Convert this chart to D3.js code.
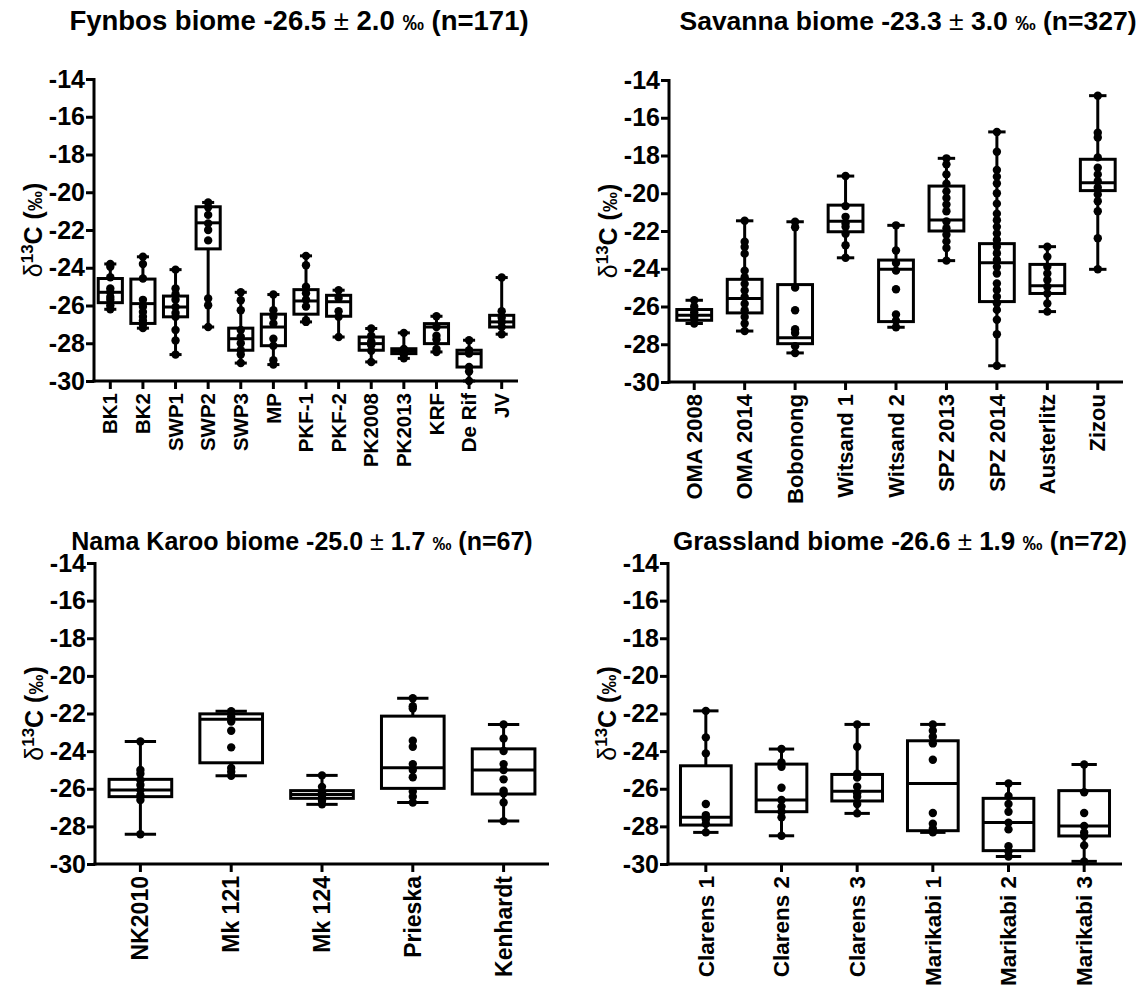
<!DOCTYPE html>
<html>
<head>
<meta charset="utf-8">
<script src="https://cdn.jsdelivr.net/npm/d3@7"></script>
<style>
  body { margin: 0; background: #fff; }
  text { font-family: "Liberation Sans", Arial, sans-serif; font-weight: bold; fill: #000; }
</style>
</head>
<body>
<svg id="chart" width="1145" height="987"></svg>
<script>
// y ticks shared by every panel
var yTicks = [-14, -16, -18, -20, -22, -24, -26, -28, -30];

// Fynbos
var fynbosSites = ["BK1", "BK2", "SWP1", "SWP2", "SWP3", "MP", "PKF-1", "PKF-2", "PK2008", "PK2013", "KRF", "De Rif", "JV"];
// [min, q1, median, q3, max]
var fynbosStats = [
  [-26.2, -25.85, -25.3, -24.57, -23.8],
  [-27.2, -26.95, -25.9, -24.6, -23.42],
  [-28.6, -26.6, -26.08, -25.5, -24.1],
  [-27.14, -23.0, -21.62, -20.77, -20.54],
  [-29.05, -28.37, -27.76, -27.2, -25.3],
  [-29.13, -28.13, -27.14, -26.46, -25.42],
  [-26.87, -26.46, -25.76, -25.16, -23.37],
  [-27.67, -26.57, -25.8, -25.46, -25.19],
  [-28.99, -28.37, -28.02, -27.67, -27.22],
  [-28.8, -28.55, -28.43, -28.29, -27.45],
  [-28.46, -28.02, -27.14, -26.96, -26.57],
  [-30.0, -29.26, -28.55, -28.37, -27.84],
  [-27.52, -27.14, -26.87, -26.52, -24.52]
];
var fynbosPoints = [
  [-23.8, -23.95, -24.5, -25.1, -25.3, -25.55, -25.7, -26.0, -26.2],
  [-23.42, -23.8, -24.57, -25.7, -26.07, -26.34, -26.6, -26.8, -27.0, -27.2],
  [-24.1, -25.1, -25.4, -25.7, -26.08, -26.4, -26.6, -27.3, -27.85, -28.6],
  [-20.54, -20.8, -21.2, -21.65, -22.0, -22.55, -25.63, -25.99, -27.14],
  [-25.3, -25.72, -26.25, -27.3, -27.65, -28.0, -28.37, -28.6, -29.05],
  [-25.42, -26.25, -26.6, -26.95, -27.76, -28.13, -28.9, -29.13],
  [-23.37, -23.87, -25.0, -25.35, -25.7, -26.05, -26.78, -26.87],
  [-25.19, -25.6, -26.3, -26.6, -27.67],
  [-27.22, -27.6, -27.9, -28.1, -28.4, -28.99],
  [-27.45, -28.3, -28.4, -28.5, -28.6, -28.8],
  [-26.57, -27.14, -27.6, -27.8, -28.3, -28.46],
  [-27.84, -28.37, -28.55, -29.26, -29.5, -30.0],
  [-24.52, -26.3, -26.65, -26.87, -27.14, -27.52]
];

// Savanna
var savannaSites = ["OMA 2008", "OMA 2014", "Bobonong", "Witsand 1", "Witsand 2", "SPZ 2013", "SPZ 2014", "Austerlitz", "Zizou"];
var savannaStats = [
  [-26.9, -26.73, -26.46, -26.16, -25.67],
  [-27.3, -26.34, -25.58, -24.56, -21.46],
  [-28.46, -27.97, -27.65, -24.84, -21.51],
  [-23.42, -22.04, -21.48, -20.63, -19.09],
  [-27.1, -26.8, -24.03, -23.54, -21.7],
  [-23.57, -22.0, -21.42, -19.62, -18.15],
  [-29.14, -25.74, -23.68, -22.67, -16.75],
  [-26.27, -25.31, -24.9, -23.77, -22.83],
  [-24.03, -19.86, -19.44, -18.2, -14.83]
];
var savannaPoints = [
  [-25.67, -26.0, -26.3, -26.46, -26.6, -26.9],
  [-21.46, -22.57, -22.85, -23.2, -24.1, -24.45, -24.8, -25.15, -25.5, -25.85, -26.2, -26.55, -26.9, -27.3],
  [-21.51, -21.8, -25.0, -26.2, -27.2, -27.4, -28.1, -28.46],
  [-19.09, -20.68, -21.25, -21.6, -21.78, -22.15, -22.75, -23.42],
  [-21.7, -23.03, -23.7, -24.1, -25.09, -26.42, -26.75, -27.1],
  [-18.15, -18.47, -19.0, -19.5, -19.9, -20.25, -20.6, -20.95, -21.5, -21.85, -22.2, -22.55, -22.9, -23.57],
  [-16.75, -17.8, -18.77, -19.12, -19.48, -20.0, -20.55, -21.08, -21.43, -21.78, -22.13, -22.48, -22.83, -23.18, -23.53, -23.9, -24.25, -24.78, -25.13, -25.48, -25.83, -26.18, -26.7, -27.47, -29.14],
  [-22.83, -23.36, -23.9, -24.25, -24.6, -24.95, -25.31, -25.84, -26.27],
  [-14.83, -16.79, -17.05, -18.1, -18.65, -19.0, -19.36, -19.7, -20.06, -20.42, -20.95, -22.38, -24.03]
];

// Nama Karoo
var namaSites = ["NK2010", "Mk 121", "Mk 124", "Prieska", "Kenhardt"];
var namaStats = [
  [-28.42, -26.42, -26.07, -25.5, -23.49],
  [-25.31, -24.62, -22.3, -22.02, -21.88],
  [-26.83, -26.51, -26.3, -26.1, -25.29],
  [-26.73, -25.98, -24.88, -22.14, -21.19],
  [-27.72, -26.28, -25.0, -23.88, -22.58]
];
var namaPoints = [
  [-23.49, -25.0, -25.2, -25.55, -25.8, -26.07, -26.35, -26.6, -28.42],
  [-21.88, -22.17, -22.43, -22.92, -23.8, -24.9, -25.1, -25.31],
  [-25.29, -25.9, -26.2, -26.37, -26.64, -26.83],
  [-21.19, -21.61, -21.74, -23.45, -23.77, -24.69, -25.0, -25.39, -26.15, -26.42, -26.73],
  [-22.58, -23.33, -23.99, -24.69, -25.0, -25.5, -26.1, -26.24, -26.73, -27.72]
];

// Grassland
var grassSites = ["Clarens 1", "Clarens 2", "Clarens 3", "Marikabi 1", "Marikabi 2", "Marikabi 3"];
var grassStats = [
  [-28.32, -27.93, -27.52, -24.78, -21.86],
  [-28.5, -27.22, -26.6, -24.69, -23.89],
  [-27.31, -26.65, -26.13, -25.24, -22.58],
  [-28.32, -28.23, -25.72, -23.45, -22.58],
  [-29.6, -29.29, -27.8, -26.51, -25.72],
  [-29.86, -28.51, -27.98, -26.1, -24.71]
];
var grassPoints = [
  [-21.86, -23.27, -24.12, -26.81, -27.4, -27.63, -27.86, -28.32],
  [-23.89, -24.6, -24.83, -25.95, -26.6, -26.95, -27.22, -27.52, -28.5],
  [-22.58, -23.77, -25.2, -25.41, -25.89, -26.24, -26.42, -26.81, -27.31],
  [-22.58, -22.92, -23.24, -23.59, -24.46, -27.29, -27.86, -28.12, -28.32],
  [-25.72, -26.38, -26.81, -27.22, -27.8, -28.16, -29.06, -29.33, -29.6],
  [-24.71, -26.19, -27.29, -27.98, -28.33, -28.51, -29.01, -29.86]
];

var svg = d3.select("#chart");

function drawPanel(cfg) {
  var g = svg.append("g");

  var x = d3.scaleBand()
      .domain(cfg.sites)
      .range([cfg.left, cfg.right])
      .paddingInner(0)
      .paddingOuter(0);
  var y = d3.scaleLinear()
      .domain([-30, -14])
      .range([cfg.bottom, cfg.top]);

  var bw = x.bandwidth() * cfg.boxFrac,
      cap = bw * 0.5;

  // y axis
  var yAxis = g.append("g")
      .attr("transform", "translate(" + cfg.left + ",0)")
      .call(d3.axisLeft(y).tickValues(yTicks).tickSize(8).tickPadding(1).tickFormat(d3.format("d")));
  yAxis.select(".domain").attr("stroke-width", 3).attr("d", "M0," + (cfg.top - 1) + "V" + (cfg.bottom + 1.5));
  yAxis.selectAll(".tick line").attr("stroke-width", 3);
  yAxis.selectAll(".tick text")
      .style("font-size", "25px")
      .style("font-family", "'Liberation Sans', Arial, sans-serif")
      .style("font-weight", "bold")
      .attr("fill", "#000")
      .text(function(d) { return "-" + Math.abs(d); });

  // x axis
  var xAxis = g.append("g")
      .attr("transform", "translate(0," + cfg.bottom + ")")
      .call(d3.axisBottom(x).tickSize(8).tickSizeOuter(0));
  xAxis.select(".domain").attr("stroke-width", 3).attr("d", "M" + (cfg.left - 1.5) + ",0H" + cfg.right);
  xAxis.selectAll(".tick line").attr("stroke-width", 3);
  xAxis.selectAll(".tick text")
      .style("font-size", cfg.xFont + "px")
      .style("font-family", "'Liberation Sans', Arial, sans-serif")
      .style("font-weight", "bold")
      .attr("fill", "#000")
      .attr("transform", "rotate(-90)")
      .attr("text-anchor", "end")
      .attr("dy", "0.35em")
      .attr("x", -12)
      .attr("y", 0);

  var sites = g.selectAll(".site")
      .data(cfg.sites.map(function(s, i) { return { name: s, st: cfg.stats[i], pts: cfg.points[i] }; }))
      .enter().append("g")
      .attr("transform", function(d) { return "translate(" + (x(d.name) + x.bandwidth() / 2) + ",0)"; });

  // whiskers
  sites.append("line")
      .attr("x1", 0).attr("x2", 0)
      .attr("y1", function(d) { return y(d.st[0]); })
      .attr("y2", function(d) { return y(d.st[4]); })
      .attr("stroke", "#000").attr("stroke-width", 3);
  [0, 4].forEach(function(k) {
    sites.append("line")
        .attr("x1", -cap / 2).attr("x2", cap / 2)
        .attr("y1", function(d) { return y(d.st[k]); })
        .attr("y2", function(d) { return y(d.st[k]); })
        .attr("stroke", "#000").attr("stroke-width", 3);
  });

  // boxes
  sites.append("rect")
      .attr("x", -bw / 2)
      .attr("width", bw)
      .attr("y", function(d) { return y(d.st[3]); })
      .attr("height", function(d) { return y(d.st[1]) - y(d.st[3]); })
      .attr("fill", "#fff")
      .attr("stroke", "#000").attr("stroke-width", 3);
  sites.append("line")
      .attr("x1", -bw / 2).attr("x2", bw / 2)
      .attr("y1", function(d) { return y(d.st[2]); })
      .attr("y2", function(d) { return y(d.st[2]); })
      .attr("stroke", "#000").attr("stroke-width", 3);

  // points
  sites.selectAll("circle")
      .data(function(d) { return d.pts; })
      .enter().append("circle")
      .attr("cx", 0)
      .attr("cy", function(v) { return y(v); })
      .attr("r", 4.2)
      .attr("fill", "#000");

  // title
  var t = g.append("text")
      .attr("x", cfg.titleX)
      .attr("y", cfg.titleY)
      .attr("text-anchor", "middle")
      .style("font-size", cfg.titleFont + "px");
  t.append("tspan").text(cfg.title + " " + cfg.mean + " ");
  t.append("tspan").style("font-weight", "normal").text("\u00b1");
  t.append("tspan").text(" " + cfg.sd + " ");
  t.append("tspan").style("font-size", (cfg.titleFont - 6) + "px").text("\u2030");
  t.append("tspan").text(" (n=" + cfg.n + ")");

  // y label
  var yl = g.append("text")
      .attr("transform", "translate(" + (cfg.left - 52) + "," + ((cfg.top + cfg.bottom) / 2) + ") rotate(-90)")
      .attr("text-anchor", "middle")
      .style("font-size", "25px");
  yl.append("tspan").style("font-weight", "normal").text("\u03b4");
  yl.append("tspan").attr("dy", -9).style("font-size", "17px").text("13");
  yl.append("tspan").attr("dy", 9).text("C (");
  yl.append("tspan").style("font-size", "20px").text("\u2030");
  yl.append("tspan").text(")");
}

drawPanel({ sites: fynbosSites, stats: fynbosStats, points: fynbosPoints,
  left: 94, right: 518, top: 79, bottom: 381, boxFrac: 0.74, xFont: 20.5,
  title: "Fynbos biome", mean: "-26.5", sd: "2.0", n: 171, titleX: 299, titleY: 30, titleFont: 27.5 });
drawPanel({ sites: savannaSites, stats: savannaStats, points: savannaPoints,
  left: 669, right: 1123, top: 80, bottom: 382, boxFrac: 0.69, xFont: 22,
  title: "Savanna biome", mean: "-23.3", sd: "3.0", n: 327, titleX: 908, titleY: 30, titleFont: 26.5 });
drawPanel({ sites: namaSites, stats: namaStats, points: namaPoints,
  left: 95, right: 549, top: 563, bottom: 864, boxFrac: 0.69, xFont: 23,
  title: "Nama Karoo biome", mean: "-25.0", sd: "1.7", n: 67, titleX: 302, titleY: 550, titleFont: 25 });
drawPanel({ sites: grassSites, stats: grassStats, points: grassPoints,
  left: 668, right: 1122, top: 563, bottom: 864, boxFrac: 0.67, xFont: 22.5,
  title: "Grassland biome", mean: "-26.6", sd: "1.9", n: 72, titleX: 900, titleY: 550, titleFont: 26 });
</script>
</body>
</html>
